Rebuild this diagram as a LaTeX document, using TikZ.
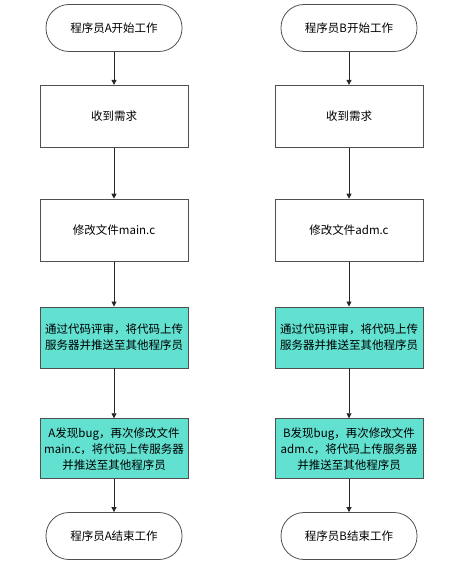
\documentclass[tikz,border=0pt]{standalone}
\usepackage{fontspec}
\setmainfont{Noto Sans CJK SC}
\usetikzlibrary{positioning,arrows.meta}
\definecolor{reviewcyan}{RGB}{98,224,208}
\definecolor{edgegray}{RGB}{80,80,80}

\begin{document}
\begin{tikzpicture}[x=1pt,y=-1pt,
  >={Triangle[width=5pt,length=5pt]},
  term/.style={draw=edgegray,line width=0.8pt,rounded corners=23pt,minimum width=136pt,minimum height=47pt,inner sep=0pt,font=\fontsize{11.5}{16}\selectfont},
  task/.style={draw=edgegray,line width=0.8pt,minimum width=148pt,minimum height=62pt,inner sep=2pt,align=center,font=\fontsize{11.5}{16}\selectfont},
  push/.style={task,fill=reviewcyan},
  flow/.style={->,line width=0.7pt,black!85}]
\useasboundingbox (0,0) rectangle (459,561);
% programmer A
\node[term] (startA) at (114,28) {程序员A开始工作};
\node[task,below=33pt of startA] (needA) {收到需求};
\node[task,below=51pt of needA] (editA) {修改文件main.c};
\node[push,below=45pt of editA,minimum height=61pt] (reviewA) {通过代码评审，将代码上传\\服务器并推送至其他程序员};
\node[push,below=50pt of reviewA,minimum height=60pt] (bugA) {A发现bug，再次修改文件\\main.c，将代码上传服务器\\并推送至其他程序员};
\node[term,below=33pt of bugA] (endA) {程序员A结束工作};
% programmer B
\node[term] (startB) at (349,28) {程序员B开始工作};
\node[task,below=33pt of startB] (needB) {收到需求};
\node[task,below=51pt of needB] (editB) {修改文件adm.c};
\node[push,below=45pt of editB,minimum height=61pt] (reviewB) {通过代码评审，将代码上传\\服务器并推送至其他程序员};
\node[push,below=50pt of reviewB,minimum height=60pt] (bugB) {B发现bug，再次修改文件\\adm.c，将代码上传服务器\\并推送至其他程序员};
\node[term,below=33pt of bugB] (endB) {程序员B结束工作};
\draw[flow] (startA) -- (needA);
\draw[flow] (needA) -- (editA);
\draw[flow] (editA) -- (reviewA);
\draw[flow] (reviewA) -- (bugA);
\draw[flow] (bugA) -- (endA);
\draw[flow] (startB) -- (needB);
\draw[flow] (needB) -- (editB);
\draw[flow] (editB) -- (reviewB);
\draw[flow] (reviewB) -- (bugB);
\draw[flow] (bugB) -- (endB);
\end{tikzpicture}
\end{document}
